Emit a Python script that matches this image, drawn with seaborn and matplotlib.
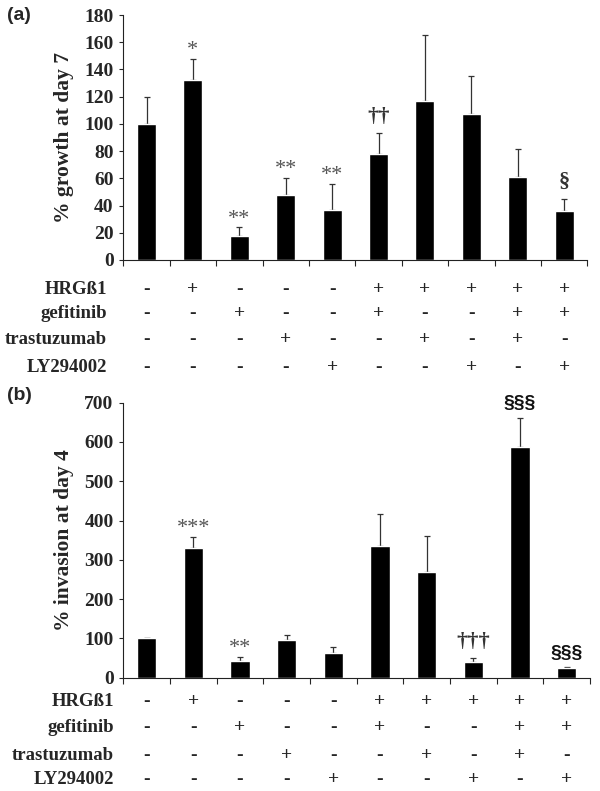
import numpy as np
import pandas as pd
import matplotlib
matplotlib.use('Agg')
import matplotlib.pyplot as plt
import matplotlib.transforms as mtransforms
import seaborn as sns

# Data
groups = list(range(10))
growth = [100, 132, 18, 48, 37, 78, 117, 107, 61, 36]
growth_err = [19.5, 15.5, 6, 12, 19, 15, 48, 28, 20.5, 9]
growth_marks = ['', '*', '**', '**', '**', '\u2020\u2020', '', '', '', '\u00a7']

invasion = [100, 330, 42, 95, 63, 336, 268, 39, 588, 24]
invasion_err = [0, 28, 11, 13, 14, 81, 93, 10, 74, 2]
invasion_marks = ['', '***', '**', '', '', '', '', '\u2020\u2020\u2020', '\u00a7\u00a7\u00a7', '\u00a7\u00a7\u00a7']

treatments = ['HRG\u00df1', 'gefitinib', 'trastuzumab', 'LY294002']
hrg = ['-', '+', '-', '-', '-', '+', '+', '+', '+', '+']
gefitinib = ['-', '-', '+', '-', '-', '+', '-', '-', '+', '+']
trastuzumab = ['-', '-', '-', '+', '-', '-', '+', '-', '+', '-']
ly294002 = ['-', '-', '-', '-', '+', '-', '-', '+', '-', '+']
table = [hrg, gefitinib, trastuzumab, ly294002]

df = pd.DataFrame({'group': groups, 'growth': growth, 'invasion': invasion})

sns.set_theme(style='white')
plt.rcParams['font.family'] = ['Liberation Serif', 'DejaVu Serif']
plt.rcParams['axes.edgecolor'] = '#222222'

W, H = 600, 791
fig = plt.figure(figsize=(6, 7.91), dpi=100)


def px(x0, y0, x1, y1):
    # convert pixel box to figure fraction rect
    return [x0 / W, 1 - y1 / H, (x1 - x0) / W, (y1 - y0) / H]


def panel(rect, col, err, marks, ymax, step, ylabel, tag, tag_y, row_px, label_right, special=()):
    ax = fig.add_axes(rect)
    sns.barplot(data=df, x='group', y=col, color='black', saturation=1,
                width=0.41, errorbar=None, ax=ax, zorder=2)
    vals = df[col].values
    ax.errorbar(df['group'], vals, yerr=[np.zeros(len(vals)), err], fmt='none',
                ecolor='#333333', elinewidth=0.9, capsize=2, capthick=0.9, zorder=1)
    for i, m in enumerate(marks):
        if not m:
            continue
        if m in special:
            ax.annotate(m, (i, vals[i] + err[i]), xytext=(0, 10), textcoords='offset points',
                        ha='center', va='center', fontsize=14, fontweight='bold',
                        family=['Liberation Sans', 'DejaVu Sans'], color='#111111')
        elif '*' in m:
            ax.annotate(m, (i, vals[i] + err[i]), xytext=(0, 6), textcoords='offset points',
                        ha='center', va='center', fontsize=16, color='#555555')
        else:
            ax.annotate(m, (i, vals[i] + err[i]), xytext=(0, 12), textcoords='offset points',
                        ha='center', va='center', fontsize=16, fontweight='bold', color='#333333')

    ax.set_xlim(-0.5, 9.5)
    ax.set_ylim(0, ymax)
    ax.set_yticks(np.arange(0, ymax + 1, step))
    ax.set_xticks(np.arange(-0.5, 10, 1))
    ax.set_xticklabels([])
    ax.set_xlabel('')
    ax.set_ylabel(ylabel, fontsize=15.5, fontweight='bold', labelpad=7)
    ax.tick_params(axis='y', labelsize=14, length=3, width=0.8, direction='out', pad=4, left=True)
    ax.tick_params(axis='x', length=4, width=0.8, direction='out', bottom=True)
    for t in ax.get_yticklabels():
        t.set_fontweight('bold')
    sns.despine(ax=ax)
    for s in ['left', 'bottom']:
        ax.spines[s].set_linewidth(0.8)

    fig.text(7 / W, 1 - tag_y / H, tag, fontsize=14, fontweight='bold',
             family=['Liberation Sans', 'DejaVu Sans'], va='center', ha='left')

    trans = mtransforms.blended_transform_factory(ax.transData, fig.transFigure)
    for name, row, ypx in zip(treatments, table, row_px):
        fig.text(label_right / W, 1 - ypx / H, name, fontsize=13.5, fontweight='bold',
                 ha='right', va='center')
        for i, s in enumerate(row):
            ax.text(i, 1 - ypx / H, s, transform=trans, fontsize=14, fontweight='bold',
                    ha='center', va='center', clip_on=False)
    return ax


panel(px(123.3, 15, 587.3, 260), 'growth', growth_err, growth_marks, 180, 20,
      '% growth at day 7', '(a)', 15, [290, 314, 339, 367], 107)
panel(px(123.3, 402.7, 590, 677.7), 'invasion', invasion_err, invasion_marks, 700, 100,
      '% invasion at day 4', '(b)', 396, [702, 727, 755, 780], 114,
      special=('\u00a7\u00a7\u00a7',))

fig.savefig('out.png', dpi=100)
